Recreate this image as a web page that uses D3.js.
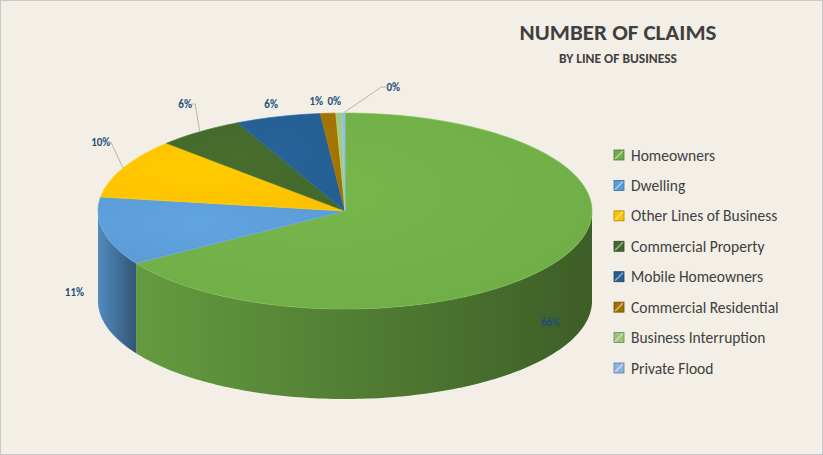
<!DOCTYPE html>
<html><head><meta charset="utf-8">
<script src="https://cdn.jsdelivr.net/npm/d3@7"></script>
<style>body{margin:0;background:#fff}svg{display:block}</style>
</head><body><div id="chart"></div>
<script>
const categories = ["Homeowners", "Dwelling", "Other Lines of Business", "Commercial Property",
  "Mobile Homeowners", "Commercial Residential", "Business Interruption", "Private Flood"];
const values = [66.3, 11.3, 9.9, 5.7, 5.6, 1.0, 0.4, 0.2];
const labels = ["66%", "11%", "10%", "6%", "6%", "1%", "0%", "0%"];
const colors = ["#70ad47", "#5b9bd5", "#ffc000", "#43682b", "#255e91", "#9e7000", "#9bc47a", "#8fb4dc"];

const W = 823, H = 455;
const cx = 345, cy = 211, rx = 247, ry = 98, depth = 90;

const svg = d3.select("#chart").append("svg").attr("width", W).attr("height", H);
svg.append("rect").attr("x", 0.5).attr("y", 0.5).attr("width", W - 1).attr("height", H - 1)
  .attr("fill", "#f3efe7").attr("stroke", "#c8c8c8");

const defs = svg.append("defs");
const pie = d3.pie().sort(null).value(d => d)(values);

const px = (a, k = 1) => cx + rx * k * Math.sin(a);
const py = (a, k = 1) => cy - ry * k * Math.cos(a);

function arcPts(a0, a1, dy) {
  const n = Math.max(2, Math.ceil((a1 - a0) / 0.02));
  return d3.range(n + 1).map(i => {
    const a = a0 + (a1 - a0) * i / n;
    return [px(a), py(a) + dy];
  });
}

// gradients
colors.forEach((c, i) => {
  const g = defs.append("linearGradient").attr("id", "side" + i).attr("x1", 0).attr("x2", 1);
  g.append("stop").attr("offset", "0%").attr("stop-color", d3.color(c).darker(0.3));
  g.append("stop").attr("offset", "100%").attr("stop-color", d3.color(c).darker(1.7));
  const r = defs.append("radialGradient").attr("id", "top" + i).attr("cx", "40%").attr("cy", "40%").attr("r", "70%");
  r.append("stop").attr("offset", "0%").attr("stop-color", d3.color(c).brighter(0.15));
  r.append("stop").attr("offset", "100%").attr("stop-color", c);
});

// front side walls
const sides = svg.append("g");
pie.forEach((p, i) => {
  const a0 = Math.max(p.startAngle, Math.PI / 2), a1 = Math.min(p.endAngle, 3 * Math.PI / 2);
  if (a1 <= a0) return;
  const top = arcPts(a0, a1, 0), bot = arcPts(a0, a1, depth).reverse();
  sides.append("path").attr("d", d3.line()(top.concat(bot)) + "Z")
    .attr("fill", `url(#side${i})`);
});

// tops
const tops = svg.append("g");
pie.forEach((p, i) => {
  const pts = [[cx, cy]].concat(arcPts(p.startAngle, p.endAngle, 0));
  tops.append("path").attr("d", d3.line()(pts) + "Z")
    .attr("fill", `url(#top${i})`).attr("stroke", d3.color(colors[i]).brighter(0.3)).attr("stroke-width", 0.6);
});

// labels
const lab = svg.append("g").attr("font-family", "Calibri, Carlito, 'Liberation Sans', sans-serif")
  .attr("font-size", 11).attr("font-weight", "bold").attr("fill", "#1f4e79");
const labelOffsets = [[0, 0], [0, 0], [0, 0], [0, 0], [0, 0], [-10, 0], [-4, 0], [50, -14]];
pie.forEach((p, i) => {
  const m = (p.startAngle + p.endAngle) / 2;
  let x, y;
  const front = Math.cos(m) < 0;
  if (front) {
    x = px(m, i === 0 ? 0.95 : 1.12);
    y = py(m, 1.12) + 62;
  } else {
    x = px(m, 1.1) + labelOffsets[i][0];
    y = py(m, 1.12) - 8 + labelOffsets[i][1];
    if (i === 2) y = 146;
    if (i === 3 || i === 4) y = 108;
    if (i >= 5) y = 105 + labelOffsets[i][1];
  }
  if (i === 2 || i === 3 || i === 7) {
    const ex = px(m), ey = py(m);
    const lx = i === 7 ? x - 12 : x + 10;
    svg.append("polyline").attr("points", [[ex, ey], [i === 7 ? lx : lx, y - 4], [i === 7 ? lx + 8 : lx - 4, y - 4]].join(" "))
      .attr("fill", "none").attr("stroke", "#a6a6a6").attr("stroke-width", 0.8);
  }
  lab.append("text").attr("x", x).attr("y", y).attr("text-anchor", "middle").text(labels[i]);
});

// title
svg.append("text").attr("x", 618).attr("y", 40).attr("text-anchor", "middle")
  .attr("font-family", "Calibri, Carlito, 'Liberation Sans Narrow', 'Liberation Sans', sans-serif")
  .attr("font-size", 23).attr("font-weight", "bold").attr("fill", "#404040").text("NUMBER OF CLAIMS");
svg.append("text").attr("x", 618).attr("y", 63).attr("text-anchor", "middle")
  .attr("font-family", "Calibri, Carlito, 'Liberation Sans', sans-serif")
  .attr("font-size", 13.5).attr("font-weight", "bold").attr("fill", "#404040").text("BY LINE OF BUSINESS");

// legend
const ly = d3.scalePoint().domain(categories).range([155, 368]);
const leg = svg.append("g").selectAll("g").data(categories).join("g")
  .attr("transform", d => `translate(614,${ly(d)})`);
leg.append("rect").attr("x", 0).attr("y", -5).attr("width", 10).attr("height", 10)
  .attr("fill", (d, i) => colors[i]).attr("stroke", (d, i) => d3.color(colors[i]).darker(1)).attr("stroke-width", 0.8);
leg.append("path").attr("d", "M1,4 L9,-4").attr("stroke", "rgba(255,255,255,0.5)").attr("stroke-width", 1.5);
leg.append("text").attr("x", 17).attr("y", 5.5)
  .attr("font-family", "Calibri, Carlito, 'Open Sans', sans-serif")
  .attr("font-size", 15.5).attr("fill", "#404040").text(d => d);
</script></body></html>
